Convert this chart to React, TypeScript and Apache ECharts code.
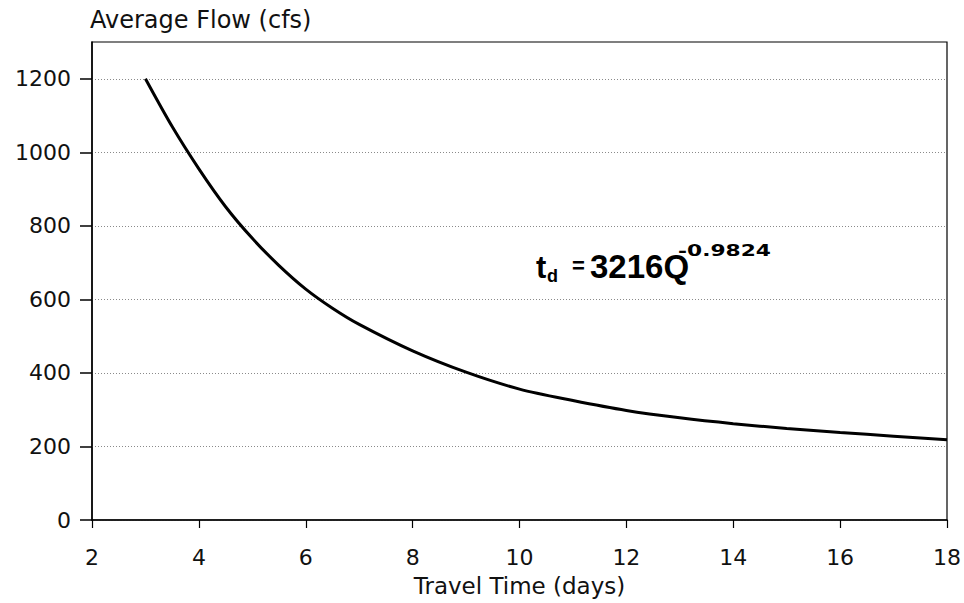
import React, { useEffect, useRef } from "react";
import * as echarts from "echarts";

const travelTimeDays = [3, 3.5, 4, 4.5, 5, 5.5, 6, 6.5, 7, 8, 9, 10, 11, 12, 13, 14, 15, 16, 17, 18];
const averageFlowCfs = [1200, 1070, 955, 852, 766, 692, 628, 576, 532, 460, 402, 356, 325, 298, 278, 262, 249, 238, 228, 218];
const yTicks = [0, 200, 400, 600, 800, 1000, 1200];
const xTicks = [2, 4, 6, 8, 10, 12, 14, 16, 18];

const FONT = "DejaVu Sans";
const BOLD = "Liberation Sans";

export default function App() {
  const ref = useRef<HTMLDivElement>(null);
  useEffect(() => {
    document.body.style.margin = "0";
    if (!ref.current) return;
    const chart = echarts.init(ref.current, null, { renderer: "svg" });
    chart.setOption({
      animation: false,
      backgroundColor: "#fff",
      grid: {
        left: 92,
        right: 17,
        top: 42,
        bottom: 83,
        show: true,
        borderColor: "#000",
        borderWidth: 1.2,
        backgroundColor: "transparent",
      },
      xAxis: {
        type: "value",
        min: 2,
        max: 18,
        interval: 2,
        name: "Travel Time (days)",
        nameLocation: "middle",
        nameGap: 54,
        nameTextStyle: { fontFamily: FONT, fontSize: 23, color: "#111" },
        axisLine: { onZero: false, lineStyle: { color: "#000", width: 1.5 } },
        axisTick: { show: true, length: 8, lineStyle: { color: "#000", width: 1.2 }, customValues: xTicks },
        axisLabel: { fontFamily: FONT, fontSize: 22, color: "#111", margin: 26, customValues: xTicks, formatter: (v: number) => String(v) },
        splitLine: { show: false },
      },
      yAxis: {
        type: "value",
        min: 0,
        max: 1300,
        interval: 200,
        name: "Average Flow (cfs)",
        nameLocation: "end",
        nameGap: 10,
        nameTextStyle: { fontFamily: FONT, fontSize: 24, color: "#111", align: "left", padding: [0, 0, 0, -2] },
        axisLine: { show: true, lineStyle: { color: "#000", width: 1.5 } },
        axisTick: { show: true, length: 12, lineStyle: { color: "#000", width: 1.5 }, customValues: yTicks },
        axisLabel: { fontFamily: FONT, fontSize: 22, color: "#111", margin: 21, customValues: yTicks, formatter: (v: number) => String(v) },
        splitLine: { show: true, lineStyle: { color: "#8a8a8a", width: 1, type: [1, 2] } },
      },
      series: [
        {
          type: "line",
          data: travelTimeDays.map((t, i) => [t, averageFlowCfs[i]]),
          smooth: 0.3,
          showSymbol: false,
          lineStyle: { color: "#000", width: 3 },
        },
      ],
      graphic: [
        { type: "text", x: 536, y: 267, style: { text: "t", fontFamily: BOLD, fontWeight: "bold", fontSize: 31, fill: "#000", verticalAlign: "middle" } },
        { type: "text", x: 547, y: 276, style: { text: "d", fontFamily: BOLD, fontWeight: "bold", fontSize: 18, fill: "#000", verticalAlign: "middle" } },
        { type: "text", x: 572, y: 265, style: { text: "=", fontFamily: BOLD, fontWeight: "bold", fontSize: 22, fill: "#000", verticalAlign: "middle" } },
        { type: "text", x: 590, y: 266, style: { text: "3216Q", fontFamily: BOLD, fontWeight: "bold", fontSize: 33, fill: "#000", verticalAlign: "middle" } },
        { type: "text", x: 678, y: 251, scaleX: 1.45, style: { text: "-0.9824", fontFamily: "DejaVu Sans", fontWeight: "bold", fontSize: 15, fill: "#000", verticalAlign: "middle" } },
      ],
    });
    return () => chart.dispose();
  }, []);
  return <div ref={ref} style={{ width: 964, height: 603 }} />;
}
